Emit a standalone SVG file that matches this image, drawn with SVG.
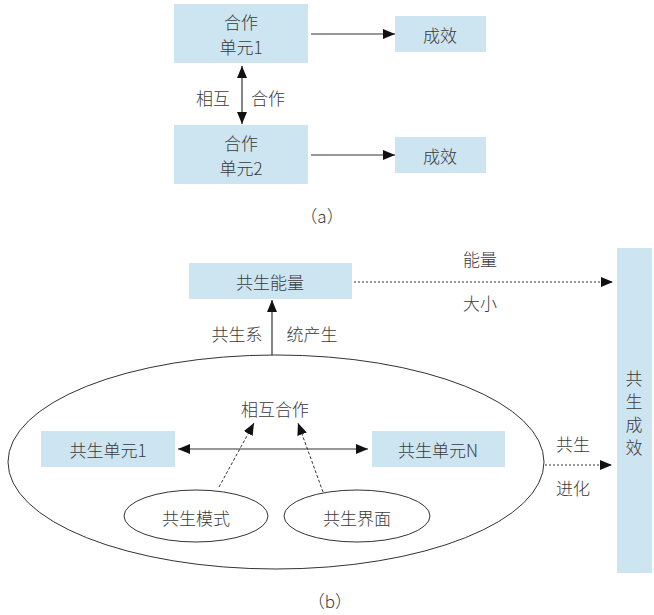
<svg xmlns="http://www.w3.org/2000/svg" width="654" height="615" viewBox="0 0 654 615">
<defs>
<style>
.box{fill:#cde4f1;}
.t{font-family:"Noto Sans CJK SC","Liberation Sans",sans-serif;font-size:17px;font-weight:300;fill:#3a3a3a;text-anchor:middle;dominant-baseline:central;}
.ln{stroke:#333;stroke-width:1.2;fill:none;}
.dot{stroke:#333;stroke-width:1;fill:none;stroke-dasharray:2,2;}
.dash{stroke:#333;stroke-width:1;fill:none;stroke-dasharray:3,2;}
.ell{fill:none;stroke:#333;stroke-width:1;}
</style>
<marker id="ah" viewBox="0 0 12 10" refX="12" refY="5" markerWidth="12" markerHeight="10" markerUnits="userSpaceOnUse" orient="auto-start-reverse">
<path d="M0,0 L12,5 L0,10 Z" fill="#111"/>
</marker>
</defs>
<rect width="654" height="615" fill="#fff"/>

<g id="unit1"><rect class="box" x="174" y="4" width="134" height="59"/><text class="t" x="241" y="21">合作</text><text class="t" x="241" y="46">单元1</text></g>
<g id="effect1"><rect class="box" x="395" y="16" width="91" height="36"/><text class="t" x="440" y="34">成效</text></g>
<g id="unit2"><rect class="box" x="174" y="125" width="134" height="59"/><text class="t" x="241" y="142">合作</text><text class="t" x="241" y="167">单元2</text></g>
<g id="effect2"><rect class="box" x="395" y="137" width="91" height="36"/><text class="t" x="440" y="155">成效</text></g>
<text class="t" x="322" y="215">（a）</text>

<g id="energy"><rect class="box" x="189" y="263" width="163" height="36"/><text class="t" x="270" y="281">共生能量</text></g>
<g id="result"><rect class="box" x="617" y="248" width="35" height="325"/>
<text class="t" x="634" y="377">共</text><text class="t" x="634" y="400">生</text><text class="t" x="634" y="423">成</text><text class="t" x="634" y="446">效</text></g>
<g id="system"><ellipse class="ell" cx="276" cy="462" rx="268" ry="107"/></g>
<g id="su1"><rect class="box" x="41" y="431" width="134" height="36"/><text class="t" x="108" y="449">共生单元1</text></g>
<g id="suN"><rect class="box" x="372" y="431" width="133" height="36"/><text class="t" x="438" y="449">共生单元N</text></g>
<g id="mode"><ellipse class="ell" cx="196" cy="516" rx="72" ry="26"/><text class="t" x="196" y="517">共生模式</text></g>
<g id="iface"><ellipse class="ell" cx="357" cy="516" rx="73" ry="26"/><text class="t" x="357" y="517">共生界面</text></g>
<g id="coop"><text class="t" x="275" y="408">相互合作</text></g>
<text class="t" x="330" y="600">（b）</text>

<g id="connectors">
<line class="ln" x1="311" y1="34" x2="395" y2="34" marker-end="url(#ah)"/>
<line class="ln" x1="311" y1="155" x2="395" y2="155" marker-end="url(#ah)"/>
<line class="ln" x1="242" y1="66" x2="242" y2="124" marker-start="url(#ah)" marker-end="url(#ah)"/>
<text class="t" x="213" y="97">相互</text><text class="t" x="268" y="97">合作</text>
<line class="dot" x1="354" y1="282" x2="613" y2="282" marker-end="url(#ah)"/>
<text class="t" x="480" y="258">能量</text><text class="t" x="480" y="302">大小</text>
<line class="ln" x1="272" y1="355" x2="272" y2="300" marker-end="url(#ah)"/>
<text class="t" x="237" y="333">共生系</text><text class="t" x="312" y="333">统产生</text>
<line class="ln" x1="178" y1="449" x2="368" y2="449" marker-start="url(#ah)" marker-end="url(#ah)"/>
<line class="dash" x1="219" y1="487" x2="254" y2="423" marker-end="url(#ah)"/>
<line class="dash" x1="323" y1="492" x2="298" y2="423" marker-end="url(#ah)"/>
<line class="dot" x1="545" y1="465" x2="612" y2="465" marker-end="url(#ah)"/>
<text class="t" x="573" y="443">共生</text><text class="t" x="573" y="487">进化</text>
</g>
</svg>
